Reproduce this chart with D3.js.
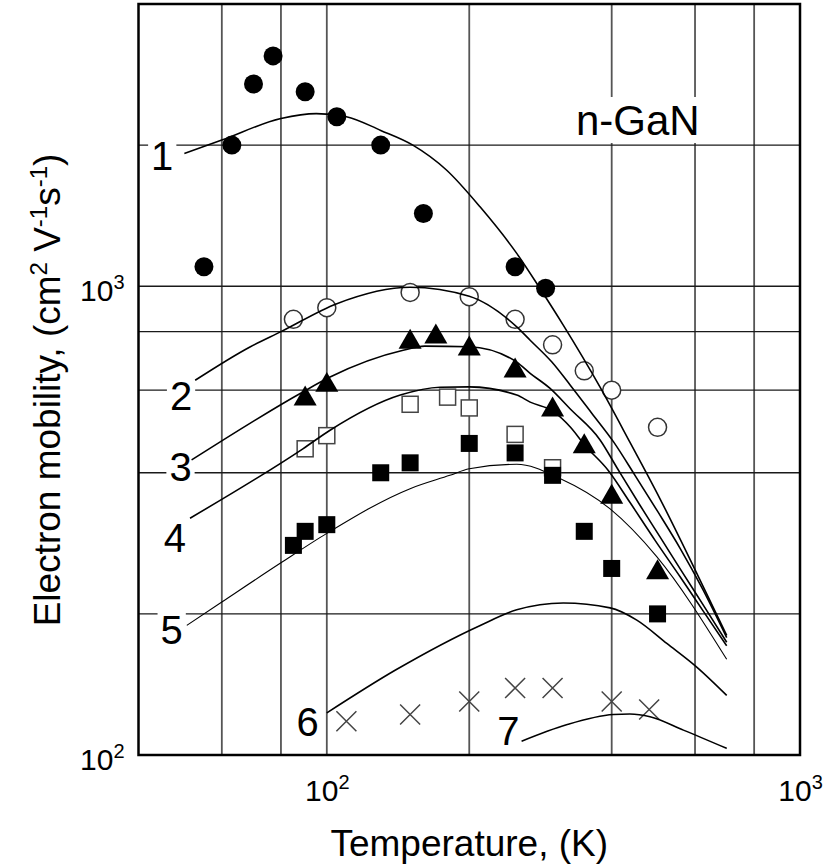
<!DOCTYPE html>
<html>
<head>
<meta charset="utf-8">
<script src="https://cdn.jsdelivr.net/npm/d3@7"></script>
<style>
  html, body { margin: 0; padding: 0; background: #fff; }
  svg { display: block; font-family: "Liberation Sans", Arial, Helvetica, sans-serif; }
</style>
</head>
<body>
<svg id="chart" width="831" height="865"></svg>
<script>
// Measured electron mobility of n-GaN (T in K, mobility in cm^2 V^-1 s^-1)
const circleFilledT  = [55, 63, 70, 77, 90, 105, 130, 160, 250, 290];
const circleFilledMu = [1100, 2000, 2700, 3100, 2600, 2300, 2000, 1430, 1100, 990];
const circleOpenT  = [85, 100, 150, 200, 250, 300, 350, 400, 500];
const circleOpenMu = [850, 900, 970, 950, 850, 750, 660, 600, 500];
const triangleT  = [90, 100, 150, 170, 200, 250, 300, 350, 400, 500];
const triangleMu = [575, 615, 760, 780, 735, 660, 545, 455, 355, 245];
const squareOpenT  = [90, 100, 150, 180, 200, 250, 300];
const squareOpenMu = [450, 480, 560, 580, 550, 483, 410];
const squareFilledT  = [85, 90, 100, 130, 150, 200, 250, 300, 350, 400, 500];
const squareFilledMu = [280, 300, 310, 400, 420, 462, 441, 395, 300, 250, 200];
const crossT  = [110, 150, 200, 250, 300, 400, 480];
const crossMu = [118, 122, 130, 139, 139, 130, 125];

// Calculated mobility curves 1-7, [T, mobility]
const curve1 = [[50,1920],[60,2050],[80,2280],[95,2335],[110,2300],[130,2150],[152,2000],[179,1770],[211,1475],[252,1175],[282,990],[316,826],[378,609],[437,465],[506,352],[595,253],[700,180]];
const curve2 = [[52.7,630],[68.8,742],[80,800],[105,918],[150,995],[200,952],[252,819],[269,767],[299,689],[327,615],[363,536],[404,465],[448,395],[501,330],[558,276],[624,225],[700,178]];
const curve3 = [[51.8,426],[89,595],[101.6,640],[145,730],[161,745],[200,743],[252,689],[269,652],[296,606],[327,547],[378,470],[411,409],[459,341],[506,292],[566,244],[630,206],[700,174]];
const curve4 = [[51.4,320],[89,450],[101.6,493],[143,586],[173.5,609],[200,610],[252,586],[269,566],[301,541],[327,501],[351,458],[393,405],[437,346],[494,287],[558,240],[624,203],[700,171]];
const curve5 = [[50.6,189],[60,212],[80,257],[100,297],[150,370],[182,395],[200,408],[252,417],[311,389],[397,335],[498,265],[700,160]];
const curve6 = [[100,123],[140,152],[211,189],[252,204],[316,211],[397,206],[452,194],[523,173],[605,154],[700,134]];
const curve7 = [[258,107],[321,116],[403,122],[437,122.3],[482,120.7],[567,113],[700,103.3]];
const curveNames = ["1", "2", "3", "4", "5", "6", "7"];

// Axes
const xDomain = [40, 1000];
const yDomain = [100, 4000];
const xTicks = [100, 1000];
const yTicks = [100, 1000];
const xGrid = [60, 80, 100, 200, 400, 600, 800];
const yGrid = [200, 400, 600, 800, 1000, 2000];
const xTitle = "Temperature, (K)";
const materialName = "n-GaN";

// ---- layout ----
const W = 831, H = 865;
const plot = { left: 138.5, right: 800, top: 4, bottom: 755 };

const svg = d3.select("#chart");
const x = d3.scaleLog().domain(xDomain).range([plot.left, plot.right]);
const y = d3.scaleLog().domain(yDomain).range([plot.bottom, plot.top]);

// grid
const grid = svg.append("g");
grid.selectAll("line.v").data(xGrid).join("line")
  .attr("x1", d => x(d)).attr("x2", d => x(d))
  .attr("y1", plot.top).attr("y2", plot.bottom)
  .attr("stroke", "#555").attr("stroke-width", 1.8);
grid.selectAll("line.h").data(yGrid).join("line")
  .attr("x1", plot.left).attr("x2", plot.right)
  .attr("y1", d => y(d)).attr("y2", d => y(d))
  .attr("stroke", "#1a1a1a").attr("stroke-width", 1.3);

// text labels with white boxes that break the grid
const labelLayer = svg.append("g");
function boxedText(tx, ty, str, size, anchor, pad) {
  const g = labelLayer.append("g");
  const rect = g.append("rect").attr("fill", "#fff");
  const t = g.append("text").attr("x", tx).attr("y", ty)
    .attr("font-size", size).attr("text-anchor", anchor).attr("fill", "#000").text(str);
  const b = t.node().getBBox();
  rect.attr("x", b.x - pad[0]).attr("y", b.y - pad[1])
    .attr("width", b.width + 2 * pad[0]).attr("height", b.height + pad[1] + pad[2]);
  return g;
}

// curve labels placed just left of each curve's starting point
const curves = [curve1, curve2, curve3, curve4, curve5, curve6, curve7];
const labelOffsets = [[-11, 17], [-3, 30], [0, 21], [-4, 34], [-4, 19], [-8, 23], [-2, 4]];
curves.forEach((c, i) => {
  const sx = x(c[0][0]), sy = y(c[0][1]);
  boxedText(sx + labelOffsets[i][0], sy + labelOffsets[i][1], curveNames[i], 40, "end", [3, -2, -8]);
});
boxedText(576, 135, materialName, 42, "start", [2, 0, -1]);

// markers
const markers = svg.append("g");
const pts = (T, M) => T.map((t, i) => [t, M[i]]);

markers.selectAll("circle.open").data(pts(circleOpenT, circleOpenMu)).join("circle")
  .attr("cx", d => x(d[0])).attr("cy", d => y(d[1])).attr("r", 9)
  .attr("fill", "#fff").attr("stroke", "#333").attr("stroke-width", 1.5);

markers.selectAll("rect.open").data(pts(squareOpenT, squareOpenMu)).join("rect")
  .attr("x", d => x(d[0]) - 8).attr("y", d => y(d[1]) - 8)
  .attr("width", 16).attr("height", 16)
  .attr("fill", "#fff").attr("stroke", "#444").attr("stroke-width", 1.5);

markers.selectAll("rect.filled").data(pts(squareFilledT, squareFilledMu)).join("rect")
  .attr("x", d => x(d[0]) - 8.5).attr("y", d => y(d[1]) - 8.5)
  .attr("width", 17).attr("height", 17).attr("fill", "#000");

markers.selectAll("path.tri").data(pts(triangleT, triangleMu)).join("path")
  .attr("transform", d => `translate(${x(d[0])},${y(d[1])})`)
  .attr("d", d3.symbol(d3.symbolTriangle, 230)).attr("fill", "#000");

markers.selectAll("circle.filled").data(pts(circleFilledT, circleFilledMu)).join("circle")
  .attr("cx", d => x(d[0])).attr("cy", d => y(d[1])).attr("r", 9.5).attr("fill", "#000");

markers.selectAll("path.cross").data(pts(crossT, crossMu)).join("path")
  .attr("transform", d => `translate(${x(d[0])},${y(d[1])})`)
  .attr("d", d3.symbol(d3.symbolTimes, 263))
  .attr("fill", "none").attr("stroke", "#444").attr("stroke-width", 1.5);

// curves
const line = d3.line().x(d => x(d[0])).y(d => y(d[1])).curve(d3.curveMonotoneX);
svg.append("g").selectAll("path").data(curves).join("path")
  .attr("d", line).attr("fill", "none").attr("stroke", "#000")
  .attr("stroke-width", (d, i) => i === 4 ? 1.1 : 1.6);

// frame
svg.append("rect")
  .attr("x", plot.left).attr("y", plot.top)
  .attr("width", plot.right - plot.left).attr("height", plot.bottom - plot.top)
  .attr("fill", "none").attr("stroke", "#000").attr("stroke-width", 2.5);

// tick labels as powers of ten
function powerLabel(sel) {
  sel.each(function (d) {
    const t = d3.select(this).text(null);
    t.append("tspan").text("10");
    t.append("tspan").attr("dy", -12).attr("font-size", 20).text(Math.round(Math.log10(d)));
  });
}
const gx = svg.append("g").attr("transform", `translate(0,${plot.bottom})`)
  .call(d3.axisBottom(x).tickValues(xTicks).tickSize(0).tickFormat(() => ""));
gx.select(".domain").remove();
gx.selectAll(".tick text").attr("y", 46).attr("dy", 0)
  .attr("font-size", 30).attr("font-family", null).attr("fill", "#000").call(powerLabel);

const gy = svg.append("g").attr("transform", `translate(${plot.left},0)`)
  .call(d3.axisLeft(y).tickValues(yTicks).tickSize(0).tickFormat(() => ""));
gy.select(".domain").remove();
gy.selectAll(".tick text").attr("x", -14).attr("y", 14).attr("dy", 0)
  .attr("font-size", 30).attr("font-family", null).attr("fill", "#000").call(powerLabel);

// axis titles
svg.append("text").attr("x", (plot.left + plot.right) / 2).attr("y", 856)
  .attr("text-anchor", "middle").attr("font-size", 37).text(xTitle);

const yt = svg.append("text")
  .attr("transform", "translate(60,390) rotate(-90)")
  .attr("text-anchor", "middle").attr("font-size", 37);
yt.append("tspan").text("Electron mobility, (cm");
yt.append("tspan").attr("dy", -13).attr("font-size", 24).text("2");
yt.append("tspan").attr("dy", 13).text(" V");
yt.append("tspan").attr("dy", -13).attr("font-size", 24).text("-1");
yt.append("tspan").attr("dy", 13).text("s");
yt.append("tspan").attr("dy", -13).attr("font-size", 24).text("-1");
yt.append("tspan").attr("dy", 13).text(")");
</script>
</body>
</html>
